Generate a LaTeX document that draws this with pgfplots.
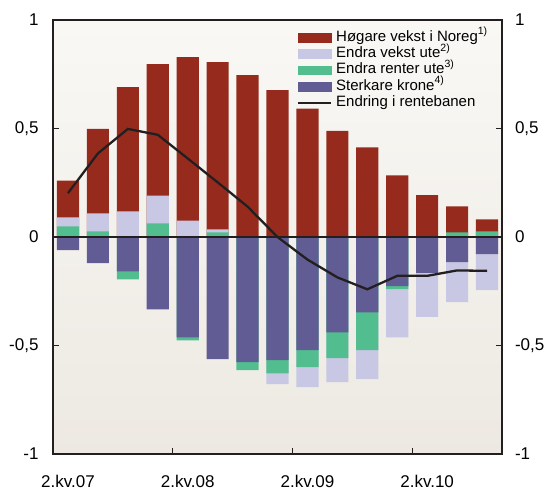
\documentclass[border=0pt]{standalone}
\usepackage{pgfplots}
\pgfplotsset{compat=1.18}
\usepackage{fontspec}
\setmainfont{Liberation Sans}

\definecolor{cred}{RGB}{150,43,29}
\definecolor{clav}{RGB}{200,200,228}
\definecolor{cgreen}{RGB}{82,190,143}
\definecolor{cpurp}{RGB}{98,92,148}
\definecolor{cline}{RGB}{35,31,32}
\definecolor{bgtop}{RGB}{249,248,245}
\definecolor{bgbot}{RGB}{237,233,226}

\newcommand\note[1]{\raisebox{0.42em}{\fontsize{10.5}{10.5}\selectfont #1}}

\pgfplotsset{
  bar/.style={ybar, bar width=0.74, bar shift=0pt, draw=none, fill=#1, forget plot},
  swatch/.style={legend image code/.code={\fill[#1] (0pt,-4.3pt) rectangle (33pt,4.3pt);}},
  lineswatch/.style={legend image code/.code={\draw[cline, line width=2pt] (0pt,0pt) -- (33pt,0pt);}},
  kvframe/.style={
    width=449pt, height=434pt, scale only axis,
    xmin=-0.5, xmax=14.5, ymin=-1, ymax=1,
    ytick={-1,-0.5,0,0.5,1},
    /pgf/number format/use comma,
    /pgf/number format/assume math mode=true,
    tick label style={font=\fontsize{17}{20}\selectfont},
    major tick length=6pt,
    tick style={cline, line width=1pt},
    axis line style={cline, line width=1.4pt},
  },
}

\begin{document}
\begin{tikzpicture}
\begin{axis}[
  kvframe, name=ax, axis on top,
  axis background/.style={shade, top color=bgtop, bottom color=bgbot},
  tick align=inside,
  ytick pos=left, xtick pos=bottom,
  xtick={3.5,7.5,11.5}, xticklabels={},
  extra x ticks={0,4,8,12},
  extra x tick labels={2.kv.07,2.kv.08,2.kv.09,2.kv.10},
  extra x tick style={major tick length=0pt},
  xticklabel style={yshift=-18pt},
  yticklabel style={xshift=-11pt},
  extra y ticks={0}, extra y tick labels={},
  extra y tick style={grid=major, major grid style={cline, line width=1.3pt}, major tick length=0pt},
  legend cell align=left,
  legend style={draw=none, fill=none, at={(axis description cs:0.5434,0.977)}, anchor=north west,
    inner sep=0pt, row sep=1.3pt, column sep=4pt,
    font=\fontsize{15}{16}\selectfont,
    nodes={inner xsep=0pt, inner ysep=0pt, text height=11pt, text depth=4pt}},
]
\addlegendimage{swatch=cred}
\addlegendentry{Høgare vekst i Noreg\note{1)}}
\addlegendimage{swatch=clav}
\addlegendentry{Endra vekst ute\note{2)}}
\addlegendimage{swatch=cgreen}
\addlegendentry{Endra renter ute\note{3)}}
\addlegendimage{swatch=cpurp}
\addlegendentry{Sterkare krone\note{4)}}
\addlegendimage{lineswatch}
\addlegendentry{Endring i rentebanen}

% positive side, cumulative tops: red total, then lavender, then green
\addplot[bar=cred] coordinates {(0,0.26) (1,0.498) (2,0.691) (3,0.797) (4,0.829) (5,0.806) (6,0.746)
  (7,0.677) (8,0.592) (9,0.489) (10,0.413) (11,0.284) (12,0.193) (13,0.141) (14,0.081)};
\addplot[bar=clav] coordinates {(0,0.09) (1,0.109) (2,0.118) (3,0.191) (4,0.076) (5,0.035)};
\addplot[bar=cgreen] coordinates {(0,0.049) (1,0.026) (3,0.063) (5,0.021) (13,0.021) (14,0.026)};

% negative side, cumulative bottoms: lavender, then green, then krone
\addplot[bar=clav] coordinates {(7,-0.678) (8,-0.692) (9,-0.669) (10,-0.655) (11,-0.462)
  (12,-0.368) (13,-0.30) (14,-0.245)};
\addplot[bar=cgreen] coordinates {(2,-0.195) (4,-0.476) (6,-0.613) (7,-0.629) (8,-0.60)
  (9,-0.558) (10,-0.521) (11,-0.24)};
\addplot[bar=cpurp] coordinates {(0,-0.061) (1,-0.12) (2,-0.158) (3,-0.333) (4,-0.462) (5,-0.563)
  (6,-0.577) (7,-0.567) (8,-0.521) (9,-0.439) (10,-0.347) (11,-0.226) (12,-0.165) (13,-0.116) (14,-0.079)};

% change in the rate path
\addplot[cline, line width=2.3pt, mark=none, forget plot] coordinates {(0,0.202) (1,0.385) (2,0.498) (3,0.471)
  (4,0.362) (5,0.252) (6,0.14) (7,0.0) (8,-0.104) (9,-0.186) (10,-0.241) (11,-0.179) (12,-0.179)
  (13,-0.154) (14,-0.156)};
\end{axis}

\begin{axis}[
  kvframe, at={(ax.south west)}, anchor=south west,
  axis x line=none, axis y line*=right, tick align=inside,
  yticklabel style={xshift=9.5pt},
]
\end{axis}

\pgfresetboundingbox
\path[use as bounding box] ([xshift=-53pt,yshift=-34pt]ax.south west) rectangle ([xshift=49pt,yshift=20pt]ax.north east);
\end{tikzpicture}
\end{document}
